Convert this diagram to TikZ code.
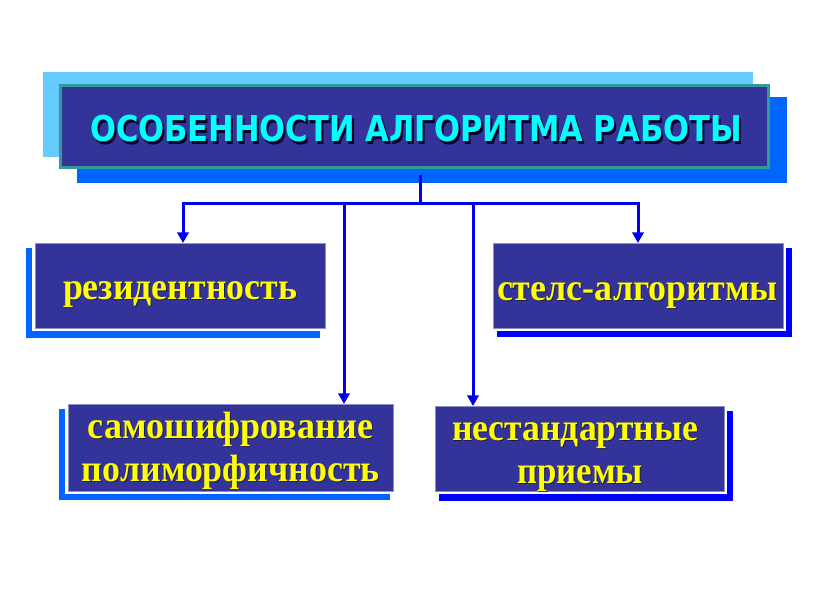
\documentclass[tikz,border=0pt]{standalone}
\usepackage{fontspec}
\setmainfont{Liberation Serif}
\newfontfamily\titlefont{DejaVu Sans}
\usetikzlibrary{arrows.meta}
\newlength\pxu \setlength\pxu{0.75pt}
\definecolor{boxfill}{HTML}{333399}
\definecolor{titleedge}{HTML}{339999}
\definecolor{lightsh}{HTML}{66CCFF}
\definecolor{midsh}{HTML}{0066FF}
\definecolor{deepsh}{HTML}{0000FF}
\definecolor{wirec}{HTML}{0000EE}
\definecolor{cyantext}{HTML}{00FFFF}
\definecolor{yel}{HTML}{FFFF00}
\definecolor{txtsh}{HTML}{1C1C55}
\newcommand\ytext[1]{\resizebox{#1\pxu}{\height}}
\begin{document}
\begin{tikzpicture}[x=0.75pt,y=-0.75pt,
  box/.style={fill=boxfill, draw=boxfill!55!white, line width=0.75pt,
    inner sep=0pt, outer sep=0pt, preaction={draw=white, line width=4.5pt}},
  titlebox/.style={fill=boxfill, draw=titleedge, line width=2.25pt,
    inner sep=0pt, outer sep=0pt, minimum width=531pt, minimum height=61.5pt},
  wire/.style={draw=wirec, line width=2.25pt},
  arr/.style={wire, -{Triangle[width=8.5pt,length=8pt]}},
  ylab/.style={anchor=base, inner sep=0pt, text=yel, font=\bfseries\fontsize{28.5pt}{34pt}\selectfont},
  yshd/.style={anchor=base, inner sep=0pt, text=txtsh, font=\bfseries\fontsize{28.5pt}{34pt}\selectfont},
  tlab/.style={anchor=base, inner sep=0pt, font=\titlefont\bfseries\fontsize{26.7pt}{30pt}\selectfont}
]
\useasboundingbox (0,0) rectangle (816,613);
\fill[white] (0,0) rectangle (816,613);

% title shadows
\fill[lightsh] (42.7,72.3) rectangle (753,157);
\fill[midsh] (77,97) rectangle (787,183);
\node[titlebox] (title) at (414.5,126.5) {};
\node[tlab, text=black!85!blue] at (418,144) {\resizebox{652\pxu}{\height}{ОСОБЕННОСТИ АЛГОРИТМА РАБОТЫ}};
\node[tlab, text=cyantext] (titleT) at (416,142) {\resizebox{652\pxu}{\height}{ОСОБЕННОСТИ АЛГОРИТМА РАБОТЫ}};

% box shadows
\fill[midsh] (26,248) rectangle (320,338);
\fill[deepsh] (497,248) rectangle (792,337);
\fill[midsh] (59,409) rectangle (390,500);
\fill[deepsh] (439,411) rectangle (733,501);

% boxes
\node[box, minimum width=217.5pt, minimum height=63.75pt] (rez) at (180,285.5) {};
\node[box, minimum width=217.5pt, minimum height=63.75pt] (stels) at (638,285.5) {};
\node[box, minimum width=243.75pt, minimum height=65.25pt] (samosh) at (230.5,447.5) {};
\node[box, minimum width=216.75pt, minimum height=63.75pt] (nestand) at (579.5,448.5) {};

% texts
\node[yshd] at (181,300) {\ytext{234}{резидентность}};
\node[ylab] (rezT) at (180,299) {\ytext{234}{резидентность}};
\node[yshd] at (638.5,301) {\ytext{281}{стелс-алгоритмы}};
\node[ylab] (stelsT) at (637.5,300) {\ytext{281}{стелс-алгоритмы}};
\node[yshd] at (231.5,439) {\ytext{285}{самошифрование}};
\node[ylab] (samoshT) at (230.5,438) {\ytext{285}{самошифрование}};
\node[yshd] at (232,482) {\ytext{298}{полиморфичность}};
\node[ylab] (polimT) at (231,481) {\ytext{298}{полиморфичность}};
\node[yshd] at (576,441) {\ytext{246}{нестандартные}};
\node[ylab] (nestandT) at (575,440) {\ytext{246}{нестандартные}};
\node[yshd] at (581,484) {\ytext{126}{приемы}};
\node[ylab] (priemyT) at (580,483) {\ytext{126}{приемы}};

% connectors
\coordinate (t0) at (420,175);
\coordinate (bus) at (420,203);
\coordinate (bl) at (183,203);
\coordinate (br) at (638,203);
\coordinate (b1) at (344,203);
\coordinate (b2) at (473,203);
\draw[wire] (t0) -- (bus);
\draw[arr] (bus) -- (bl) -- (bl |- rez.north);
\draw[arr] (bus) -- (br) -- (br |- stels.north);
\draw[arr] (b1) -- (b1 |- samosh.north);
\draw[arr] (b2) -- (b2 |- nestand.north);
\end{tikzpicture}
\end{document}
